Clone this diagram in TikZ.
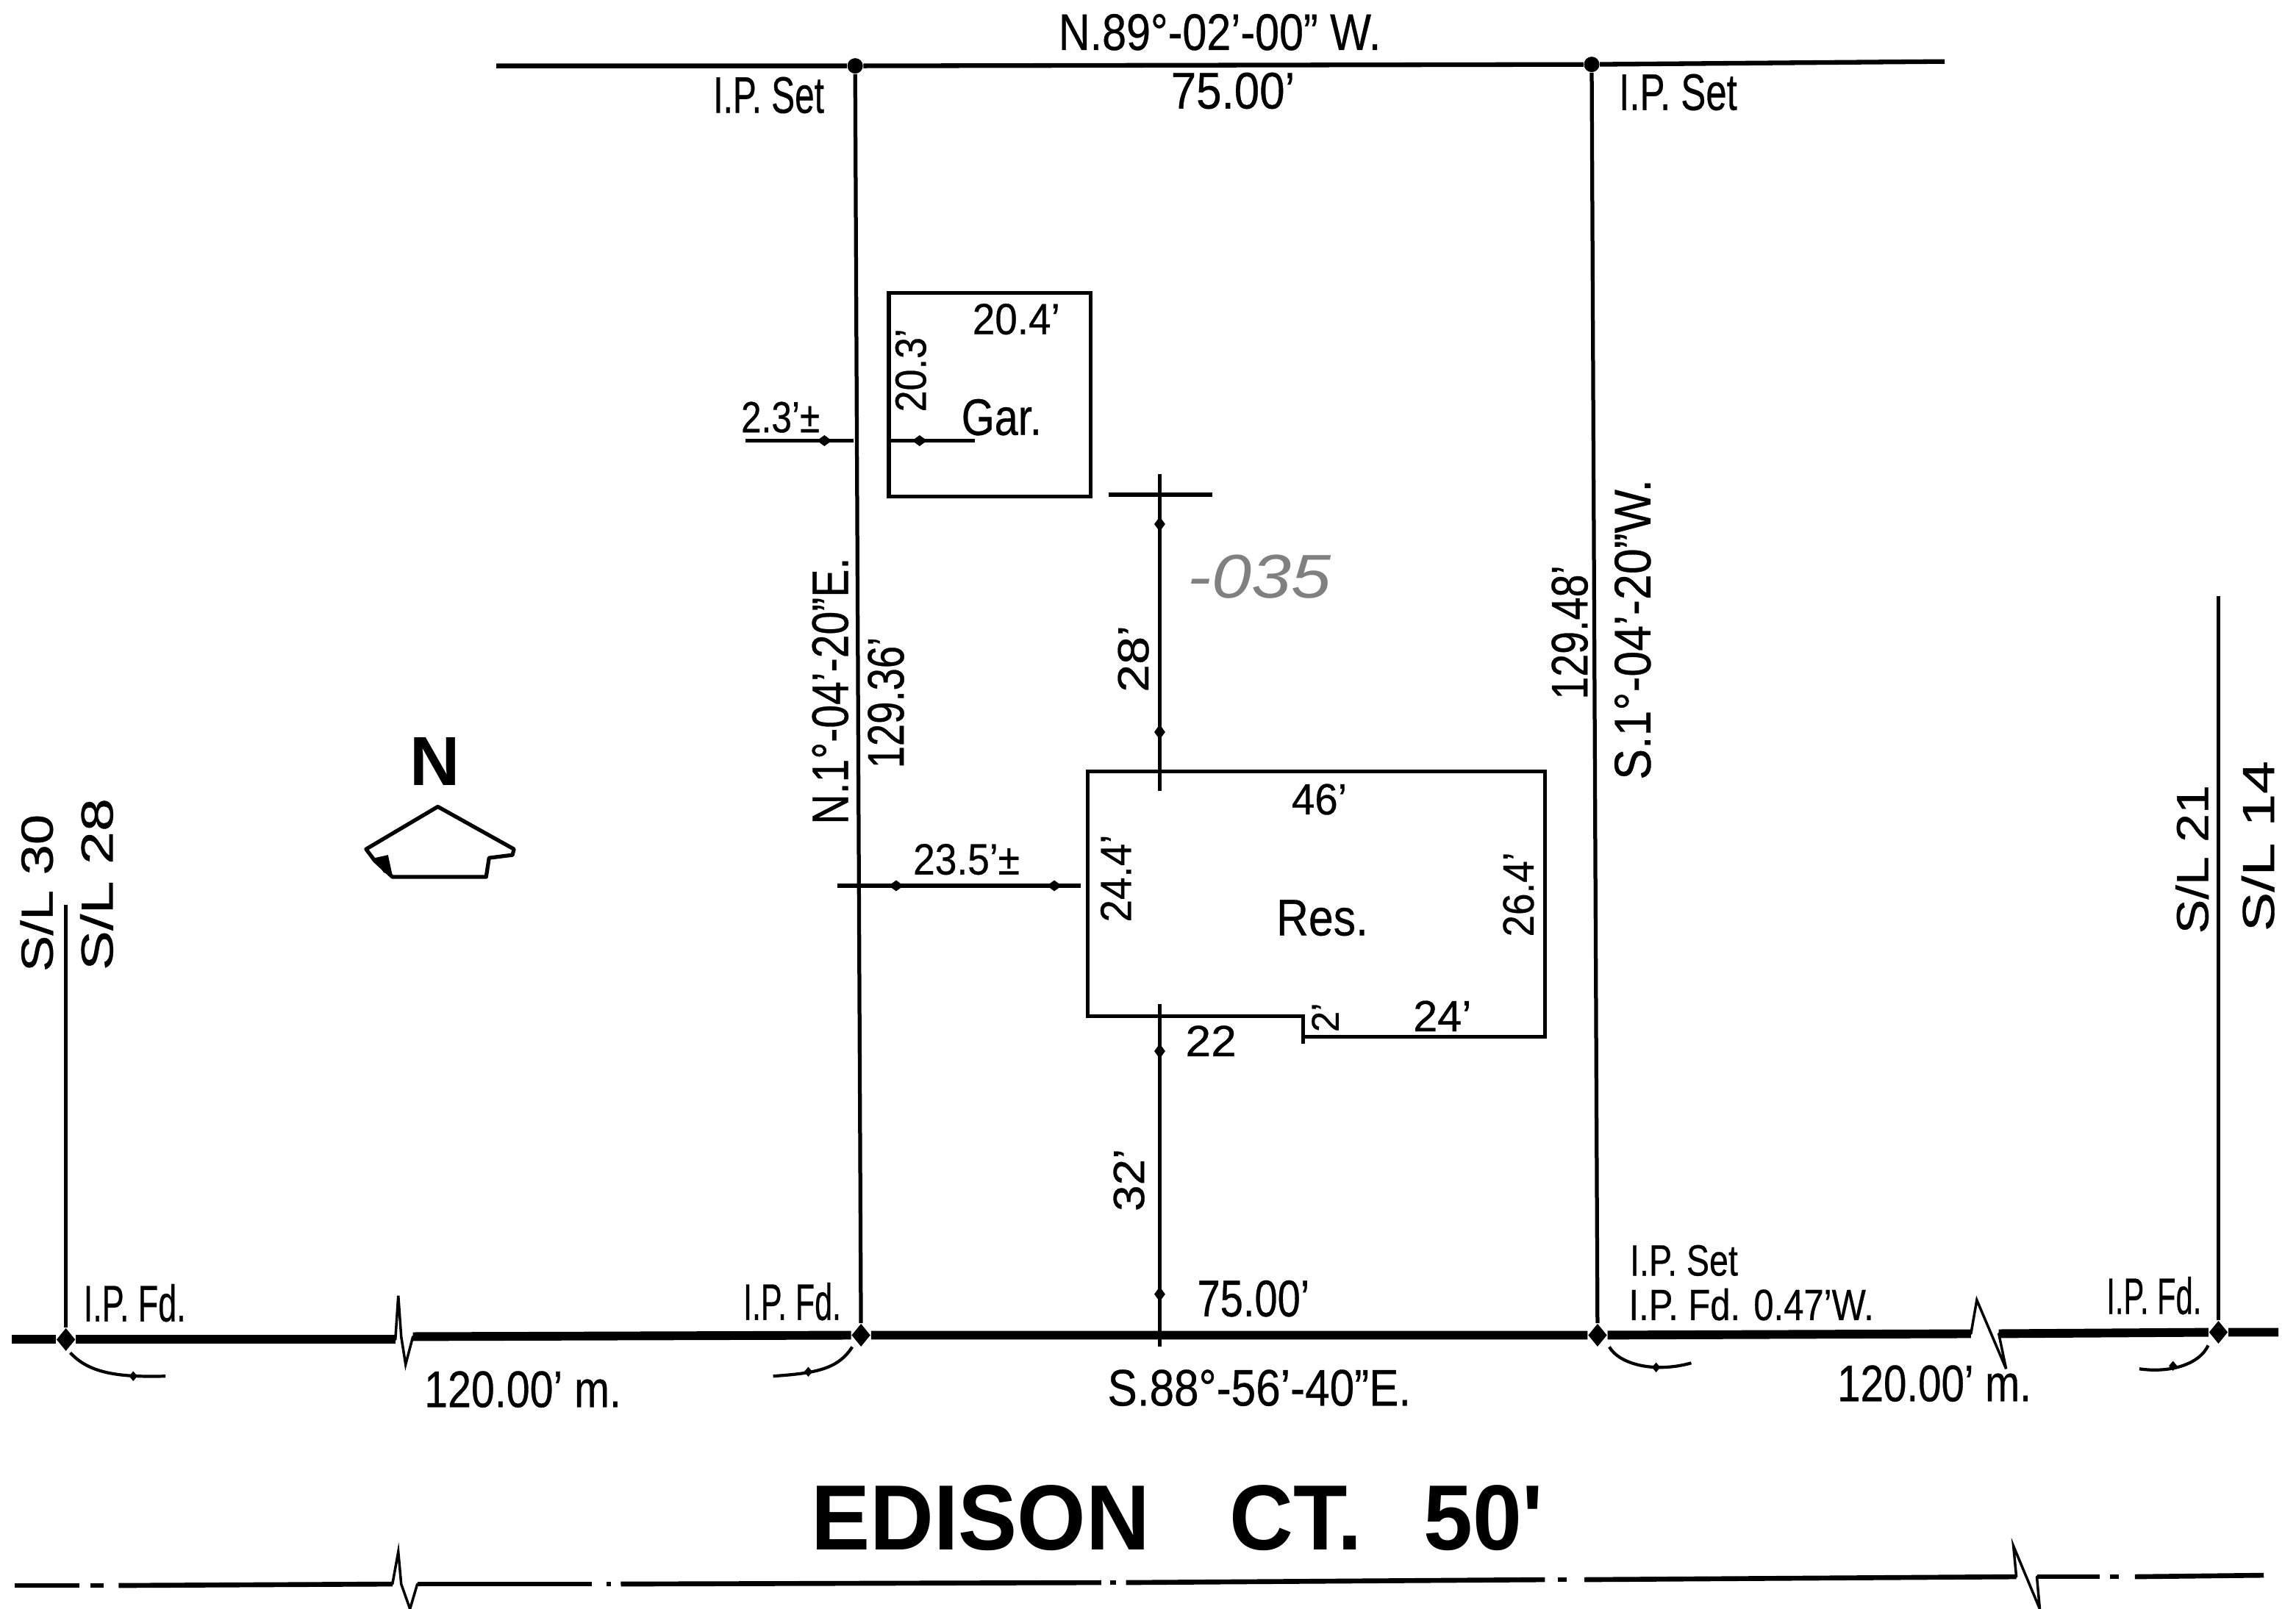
\documentclass[tikz,border=0pt]{standalone}
\usepackage{fontspec}
\usepackage{graphicx}
\setmainfont[FakeBold=0.5]{Liberation Sans}
\newfontfamily\lotfont{Liberation Sans}
\newfontfamily\streetfont{Liberation Sans}
\usetikzlibrary{shapes.geometric}
\newdimen\unitw
\unitw=0.5669pt
\newcommand{\tw}[2]{\resizebox{#1\unitw}{\height}{#2}}
\tikzset{
  lab/.style={inner sep=0pt,font=\fontsize{20}{20}\selectfont,text=black},
  labs/.style={lab,font=\fontsize{17}{17}\selectfont},
  labv/.style={lab,rotate=90},
  labl/.style={labv,font=\fontsize{17.5}{17.5}\selectfont},
  street/.style={inner sep=0pt,font=\streetfont\fontsize{36}{36}\selectfont\bfseries,text=black},
  pin/.style={circle,fill=black,inner sep=0pt,minimum size=6pt},
  pinb/.style={diamond,fill=black,inner sep=0pt,minimum width=7.4pt,minimum height=9pt},
  tipmark/.style={diamond,fill=black,inner sep=0pt,minimum width=4.4pt,minimum height=6pt},
  tipsmall/.style={diamond,fill=black,inner sep=0pt,minimum width=3.4pt,minimum height=4pt},
  roadln/.style={line width=3.4pt},
  clln/.style={line width=1.9pt},
  topln/.style={line width=1.8pt},
  bndln/.style={line width=1.5pt},
  bldln/.style={line width=1.5pt},
  dimln/.style={line width=1.2pt},
  dimhv/.style={line width=1.7pt},
  swln/.style={line width=1pt,line cap=round}
}
\begin{document}
\begin{tikzpicture}[x=0.02cm,y=-0.02cm]
\useasboundingbox (0,0) rectangle (1568,1099);
\fill[white] (0,0) rectangle (1568,1099);

% survey monuments
\node[pin] (tl) at (584,45) {};
\node[pin] (tr) at (1087,44) {};
\node[pinb] (b0) at (45,915) {};
\node[pinb] (b1) at (588,912) {};
\node[pinb] (b2) at (1091,912) {};
\node[pinb] (b3) at (1515,910) {};

% free ends
\coordinate (topw) at (339,45);
\coordinate (tope) at (1328,42);
\coordinate (roadw) at (8,915);
\coordinate (roade) at (1556,910);
\coordinate (sl0) at (45,618);
\coordinate (sl3) at (1515,407);

% top line and boundaries
\draw[topln] (topw) -- (tl) -- (tr) -- (tope);
\draw[bndln] (tl) -- (b1);
\draw[bndln] (tr) -- (b2);
\draw[bndln] (sl0) -- (b0);
\draw[bndln] (sl3) -- (b3);

% road line with breaks
\draw[roadln] (roadw) -- (b0) -- (270,915);
\draw[swln] (270,915) -- (272,885) -- (274,913) -- (277,932) -- (282,913);
\draw[roadln] (282,913) -- (b1) -- (b2) -- (1346,911);
\draw[swln] (1346,911) -- (1350,888) -- (1370,935) -- (1365,911);
\draw[roadln] (1365,911) -- (b3) -- (roade);

% street centre line
\draw[clln] (10,1083) -- (54,1083);
\draw[clln] (62,1083) -- (71,1083);
\draw[clln] (81,1083) -- (268,1082);
\draw[swln] (268,1082) -- (272,1060) -- (274,1082) -- (280,1099) -- (285,1082);
\draw[clln] (285,1082) -- (404,1082);
\draw[clln] (414,1082) -- (417,1082);
\draw[clln] (424,1082) -- (752,1081);
\draw[clln] (758,1081) -- (762,1081);
\draw[clln] (769,1081) -- (1055,1079);
\draw[clln] (1064,1079) -- (1070,1079);
\draw[clln] (1082,1079) -- (1377,1077);
\draw[swln] (1377,1077) -- (1375,1056) -- (1393,1099) -- (1391,1077);
\draw[clln] (1391,1077) -- (1434,1077);
\draw[clln] (1441,1077) -- (1447,1077);
\draw[clln] (1458,1077) -- (1546,1076);

% garage and residence
\draw[bldln] (607,200) -- (745,200) -- (745,339) -- (607,339) -- cycle;
\draw[bldln] (743,527) -- (1055,527) -- (1055,708) -- (890,708) -- (890,694) -- (743,694) -- cycle;
\draw[bldln] (890,708) -- (890,713);

% dimension lines
\coordinate (d1a) at (509,301);
\coordinate (d1b) at (583,301);
\coordinate (d2a) at (607,301);
\coordinate (d2b) at (666,301);
\draw[dimhv] (d1a) -- (d1b);
\node[tipmark,minimum width=6pt,minimum height=4.4pt] (m1) at (563,301) {};
\draw[dimhv] (d2a) -- (d2b);
\node[tipmark,minimum width=6pt,minimum height=4.4pt] (m2) at (628,301) {};
\coordinate (d3a) at (757,338);
\coordinate (d3b) at (828,338);
\draw[dimhv] (d3a) -- (d3b);
\coordinate (d4a) at (792,324);
\coordinate (d4b) at (792,540);
\draw[dimln] (d4a) -- (d4b);
\node[tipmark] (m3) at (792,358) {};
\node[tipmark] (m4) at (792,500) {};
\coordinate (d5a) at (792,686);
\coordinate (d5b) at (792,920);
\draw[dimln] (d5a) -- (d5b);
\node[tipmark] (m5) at (792,718) {};
\node[tipmark] (m6) at (792,884) {};
\coordinate (d6a) at (572,605);
\coordinate (d6b) at (738,605);
\draw[dimhv] (d6a) -- (d6b);
\node[tipmark,minimum width=6pt,minimum height=4.4pt] (m7) at (612,605) {};
\node[tipmark,minimum width=6pt,minimum height=4.4pt] (m8) at (720,605) {};

% corner arcs
\draw[dimln] (48,924) .. controls (60,937) and (78,941) .. (113,940);
\node[tipsmall] (a0) at (91,940) {};
\draw[dimln] (582,920) .. controls (572,936) and (555,938) .. (528,940);
\node[tipsmall] (a1) at (552,937) {};
\draw[dimln] (1099,920) .. controls (1106,932) and (1130,938) .. (1155,931);
\node[tipsmall] (a2) at (1131,934) {};
\draw[dimln] (1508,919) .. controls (1502,932) and (1482,938) .. (1461,935);
\node[tipsmall] (a3) at (1484,933) {};

% north arrow
\draw[bndln,line join=round] (299,551) -- (351,580) -- (350,584) -- (334,586) -- (332,599) -- (268,599) -- (256,588) -- (250,580) -- cycle;
\fill (256,586) -- (265,584) -- (268,598) -- (262,596) -- cycle;
\node[inner sep=0pt,font=\streetfont\fontsize{27}{27}\selectfont\bfseries] (north) at (297,520) {N};

% labels
\node[lab] (t1) at (833,22) {\tw{221}{N.89°-02'-00" W.}};
\node[lab] (t2) at (842,62) {\tw{85}{75.00'}};
\node[lab] (t3) at (525,65) {\tw{76}{I.P. Set}};
\node[lab] (t4) at (1146,63) {\tw{81}{I.P. Set}};
\node[labs] (t5) at (694,218) {\tw{60}{20.4'}};
\node[lab] (t6) at (684,285) {\tw{55}{Gar.}};
\node[labs] (t7) at (533,285) {\tw{54}{2.3'±}};
\node[labs] (t8) at (901,546) {\tw{38}{46'}};
\node[labs] (t9) at (660,587) {\tw{73}{23.5'±}};
\node[lab] (t10) at (903,627) {\tw{63}{Res.}};
\node[labs] (t11) at (985,694) {\tw{40}{24'}};
\node[labs] (t12) at (827,711) {\tw{35}{22}};
\node[lab] (t13) at (856,887) {\tw{77}{75.00'}};
\node[lab] (t14) at (92,890) {\tw{70}{I.P. Fd.}};
\node[lab] (t15) at (541,889) {\tw{67}{I.P. Fd.}};
\node[lab] (t16) at (1471,885) {\tw{65}{I.P. Fd.}};
\node[labs] (t17) at (1150,861) {\tw{74}{I.P. Set}};
\node[labs] (t18) at (1196,891) {\tw{168}{I.P. Fd. 0.47'W.}};
\node[lab] (t19) at (860,948) {\tw{208}{S.88°-56'-40"E.}};
\node[lab] (t20) at (357,949) {\tw{135}{120.00' m.}};
\node[lab] (t21) at (1321,945) {\tw{133}{120.00' m.}};

\node[labv] (v1) at (567,472) {\tw{183}{N.1°-04'-20"E.}};
\node[labv] (v2) at (605,480) {\tw{90}{129.36'}};
\node[labv] (v3) at (1072,432) {\tw{92}{129.48'}};
\node[labv] (v4) at (1115,430) {\tw{206}{S.1°-04'-20"W.}};
\node[labv,font=\fontsize{17}{17}\selectfont] (v5) at (622,253) {\tw{57}{20.3'}};
\node[labv,font=\fontsize{17}{17}\selectfont] (v6) at (774,450) {\tw{46}{28'}};
\node[labv,font=\fontsize{17}{17}\selectfont] (v7) at (762,600) {\tw{60}{24.4'}};
\node[labv,font=\fontsize{17}{17}\selectfont] (v8) at (1037,611) {\tw{58}{26.4'}};
\node[labv,font=\fontsize{15}{15}\selectfont] (v9) at (905,695) {\tw{20}{2'}};
\node[labv,font=\fontsize{17}{17}\selectfont] (v10) at (771,806) {\tw{43}{32'}};
\node[labl] (v11) at (25,610) {\tw{108}{S/L 30}};
\node[labl] (v12) at (66,604) {\tw{118}{S/L 28}};
\node[labl] (v13) at (1497,587) {\tw{102}{S/L 21}};
\node[labl] (v14) at (1542,578) {\tw{117}{S/L 14}};

\node[inner sep=0pt,font=\lotfont\fontsize{24}{24}\selectfont\itshape,text=black!50] (lot) at (860,394) {\tw{98}{-035}};
\node[street] (st) at (804,1037) {\tw{502}{EDISON\hspace{0.9em}CT.\hspace{0.7em}50'}};
\end{tikzpicture}
\end{document}
